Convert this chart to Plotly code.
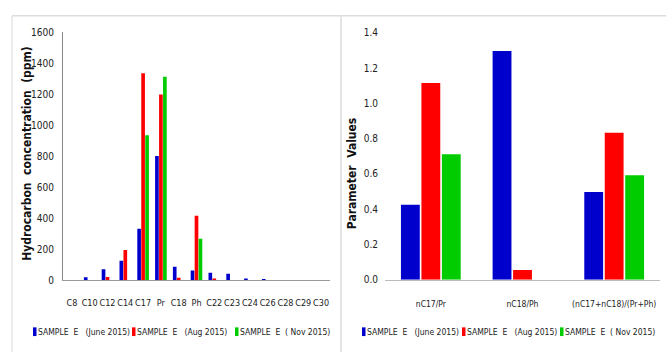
import plotly.graph_objects as go

# ---------------- data ----------------
carbons = ["C8", "C10", "C12", "C14", "C17", "Pr", "C18", "Ph", "C22", "C23", "C24", "C26", "C28", "C29", "C30"]
june_hc = [0, 20, 73, 127, 334, 802, 89, 64, 50, 44, 12, 5, 0, 0, 0]
aug_hc = [0, 0, 23, 197, 1335, 1198, 17, 417, 12, 0, 0, 0, 0, 0, 0]
nov_hc = [0, 0, 0, 0, 936, 1313, 0, 268, 0, 0, 0, 0, 0, 0, 0]

params = ["nC17/Pr", "nC18/Ph", "(nC17+nC18)/(Pr+Ph)"]
june_p = [0.425, 1.296, 0.498]
aug_p = [1.115, 0.055, 0.833]
nov_p = [0.712, 0.0, 0.593]

series_names = ["SAMPLE  E   (June 2015)", "SAMPLE  E   (Aug 2015)", "SAMPLE  E  ( Nov 2015)"]
colors = ["#0000CC", "#FF0000", "#00CC00"]

FONT = "Liberation Sans Narrow, DejaVu Sans Condensed, Liberation Sans, sans-serif"

fig = go.Figure()

for name, vals, col in zip(series_names, [june_hc, aug_hc, nov_hc], colors):
    fig.add_trace(go.Bar(x=carbons, y=vals, name=name, marker=dict(color=col, line=dict(width=0)),
                         xaxis="x", yaxis="y", showlegend=False))

for name, vals, col in zip(series_names, [june_p, aug_p, nov_p], colors):
    fig.add_trace(go.Bar(x=params, y=vals, name=name, marker=dict(color=col, line=dict(width=0)),
                         xaxis="x2", yaxis="y2", showlegend=False))

W, H = 666, 358

def px_x(p):
    return p / W

def px_y(p):
    return 1 - p / H

axis_font = dict(family=FONT, size=10, color="#222222")

# manual legends (symbol + label), one per panel
legend_left_x = [33, 132, 235]
legend_right_x = [362, 462, 560]
legend_y = 337
shapes = [
    dict(type="line", xref="paper", yref="paper", x0=px_x(12), x1=1, y0=px_y(10), y1=px_y(10),
         line=dict(color="#dcdcdc", width=1.5)),
    dict(type="line", xref="paper", yref="paper", x0=px_x(12), x1=px_x(12), y0=0, y1=px_y(10),
         line=dict(color="#e4e4e4", width=1.5)),
    dict(type="line", xref="paper", yref="paper", x0=px_x(341), x1=px_x(341), y0=0, y1=px_y(10),
         line=dict(color="#e4e4e4", width=2)),
]
annotations = [
    dict(text="<b>Hydrocarbon  concentration  (ppm)</b>", textangle=-90, x=px_x(27), y=px_y(153),
         xref="paper", yref="paper", xanchor="center", yanchor="middle", showarrow=False,
         font=dict(family=FONT, size=12, color="#111111")),
    dict(text="<b>Parameter  Values</b>", textangle=-90, x=px_x(352), y=px_y(173),
         xref="paper", yref="paper", xanchor="center", yanchor="middle", showarrow=False,
         font=dict(family=FONT, size=12, color="#111111")),
]
for xs in (legend_left_x, legend_right_x):
    for x0, name, col in zip(xs, series_names, colors):
        shapes.append(dict(type="rect", xref="paper", yref="paper",
                           x0=px_x(x0), x1=px_x(x0 + 3.5), y0=px_y(legend_y + 4.5), y1=px_y(legend_y - 4.5),
                           fillcolor=col, line=dict(width=0)))
        annotations.append(dict(text=name, x=px_x(x0 + 3), y=px_y(legend_y), xref="paper", yref="paper",
                                xanchor="left", yanchor="middle", showarrow=False,
                                font=dict(family=FONT, size=8.5, color="#222222")))

fig.update_layout(
    width=W, height=H,
    margin=dict(l=0, r=0, t=0, b=0),
    paper_bgcolor="white", plot_bgcolor="white",
    barmode="group",
    bargap=0.33, bargroupgap=0.08,
    font=dict(family=FONT, size=10, color="#222222"),
    xaxis=dict(domain=[px_x(63), px_x(330)], anchor="y", showgrid=False, zeroline=False,
               showline=True, linecolor="#9a9a9a", linewidth=1, ticks="", tickangle=0,
               tickfont=dict(family=FONT, size=9, color="#222222"), ticklabelstandoff=14),
    yaxis=dict(domain=[px_y(284), px_y(27)], anchor="x", range=[0, 1600], dtick=200,
               showgrid=False, zeroline=False, showline=True, linecolor="#8a8a8a", linewidth=1,
               ticks="", tickfont=axis_font, ticklabelstandoff=6),
    xaxis2=dict(domain=[px_x(385), px_x(660)], anchor="y2", showgrid=False, zeroline=False,
                showline=True, linecolor="#bbbbbb", linewidth=1, ticks="", tickangle=0,
                tickfont=dict(family=FONT, size=8.5, color="#222222"), ticklabelstandoff=16),
    yaxis2=dict(domain=[px_y(283.3), px_y(27.7)], anchor="x2", range=[0, 1.4], dtick=0.2,
                tickformat=".1f", showgrid=False, zeroline=False, showline=False,
                ticks="", tickfont=axis_font, ticklabelstandoff=6),
    annotations=annotations,
    shapes=shapes,
)

post = (
    "var gd=document.getElementById('{plot_id}');"
    "document.documentElement.style.margin='0';document.documentElement.style.padding='0';"
    "document.documentElement.style.overflow='hidden';document.documentElement.style.height='358px';"
    "document.body.style.margin='0';document.body.style.padding='0';"
    "document.body.style.overflow='hidden';document.body.style.height='358px';"
    "gd.style.position='fixed';gd.style.left='0px';gd.style.top='0px';"
)

fig.write_html("out.html", config={"displayModeBar": False}, post_script=post)
